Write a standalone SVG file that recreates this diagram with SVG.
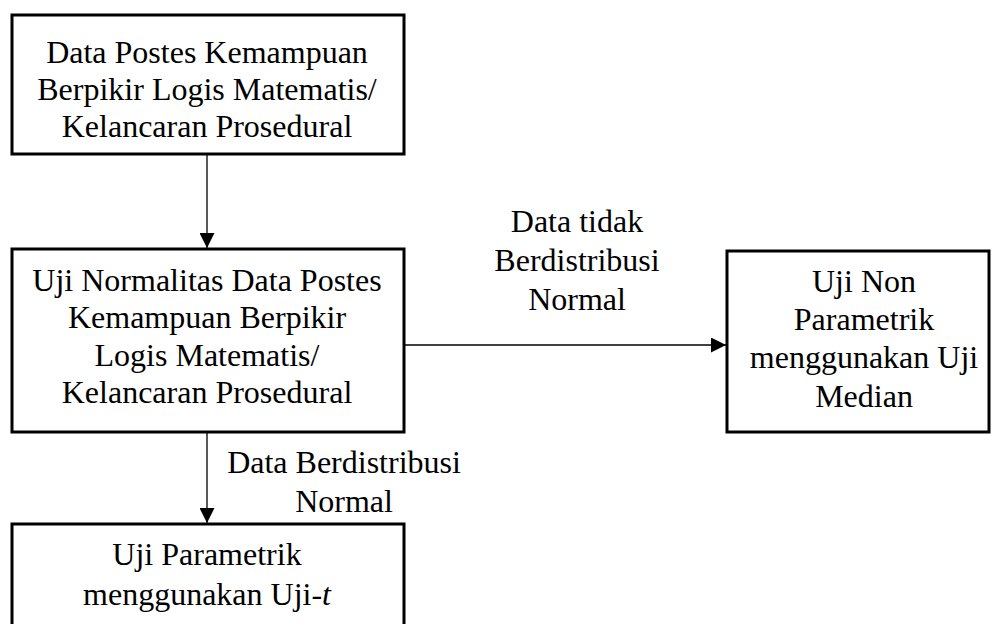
<svg xmlns="http://www.w3.org/2000/svg" width="992" height="624" viewBox="0 0 992 624">
<defs>
<marker id="arr" markerWidth="15" markerHeight="15" refX="15" refY="7.5" orient="auto" markerUnits="userSpaceOnUse">
<path d="M0,0 L15,7.5 L0,15 Z" fill="#000"/>
</marker>
<style>
.box{fill:#fff;stroke:#000;stroke-width:3}
.t{font-family:"Liberation Serif","Times New Roman",serif;font-size:32px;fill:#000;text-anchor:middle}
.ln{stroke:#000;stroke-width:1.3;fill:none}
</style>
</defs>
<rect width="992" height="624" fill="#fff"/>
<g id="connectors">
<line class="ln" x1="207" y1="155" x2="207" y2="248" marker-end="url(#arr)"/>
<line class="ln" x1="404" y1="345" x2="726" y2="345" marker-end="url(#arr)"/>
<line class="ln" x1="207" y1="433" x2="207" y2="523" marker-end="url(#arr)"/>
<text class="t"><tspan x="577" y="232">Data tidak</tspan><tspan x="577" y="271">Berdistribusi</tspan><tspan x="577" y="310">Normal</tspan></text>
<text class="t"><tspan x="344" y="473">Data Berdistribusi</tspan><tspan x="344" y="512">Normal</tspan></text>
</g>
<g id="node1">
<rect class="box" x="12" y="15" width="392" height="139"/>
<text class="t"><tspan x="207" y="63">Data Postes Kemampuan</tspan><tspan x="207" y="100">Berpikir Logis Matematis/</tspan><tspan x="207" y="137">Kelancaran Prosedural</tspan></text>
</g>
<g id="node2">
<rect class="box" x="12" y="249" width="392" height="183"/>
<text class="t"><tspan x="207" y="291">Uji Normalitas Data Postes</tspan><tspan x="207" y="328">Kemampuan Berpikir</tspan><tspan x="207" y="366">Logis Matematis/</tspan><tspan x="207" y="403">Kelancaran Prosedural</tspan></text>
</g>
<g id="node3">
<rect class="box" x="727" y="251" width="262" height="181"/>
<text class="t"><tspan x="864" y="292">Uji Non</tspan><tspan x="864" y="330">Parametrik</tspan><tspan x="864" y="368">menggunakan Uji</tspan><tspan x="864" y="407">Median</tspan></text>
</g>
<g id="node4">
<rect class="box" x="12" y="524" width="392" height="110"/>
<text class="t"><tspan x="207" y="565">Uji Parametrik</tspan><tspan x="207" y="605">menggunakan Uji-<tspan font-style="italic">t</tspan></tspan></text>
</g>
</svg>
